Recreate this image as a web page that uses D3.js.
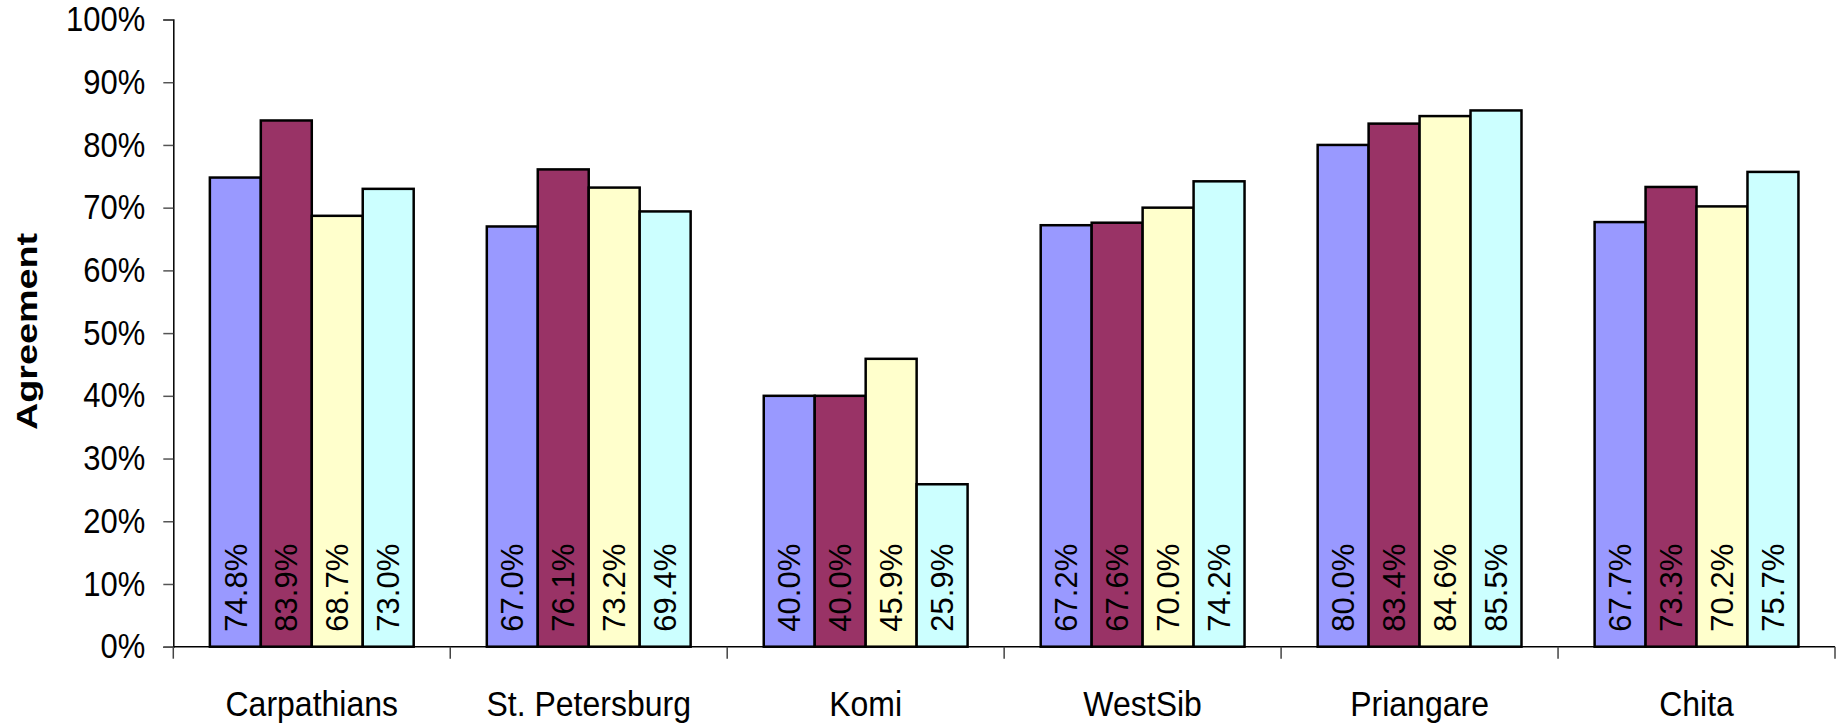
<!DOCTYPE html>
<html>
<head>
<meta charset="utf-8">
<script src="https://cdn.jsdelivr.net/npm/d3@7"></script>
<style>
  html, body { margin: 0; padding: 0; background: #fff; }
  svg { display: block; font-family: Arial, "Liberation Sans", sans-serif; }
</style>
</head>
<body>
<svg id="chart" width="1837" height="726"></svg>
<script>
const categories = ["Carpathians", "St. Petersburg", "Komi", "WestSib", "Priangare", "Chita"];
const seriesNames = ["Series 1", "Series 2", "Series 3", "Series 4"];
const series1 = [74.8, 67.0, 40.0, 67.2, 80.0, 67.7];
const series2 = [83.9, 76.1, 40.0, 67.6, 83.4, 73.3];
const series3 = [68.7, 73.2, 45.9, 70.0, 84.6, 70.2];
const series4 = [73.0, 69.4, 25.9, 74.2, 85.5, 75.7];
const seriesColors = ["#9999FF", "#993366", "#FFFFCC", "#CCFFFF"];
const yTicks = [0, 10, 20, 30, 40, 50, 60, 70, 80, 90, 100];
const yTitle = "Agreement";

const allSeries = [series1, series2, series3, series4];

const svg = d3.select("#chart");
const plotLeft = 173.3, plotRight = 1835, plotTop = 19.5, plotBottom = 646.7;
const stretch = 1.12;

const x0 = d3.scaleBand().domain(categories).range([plotLeft, plotRight])
  .paddingInner(0.264).paddingOuter(0.132);
const x1 = d3.scaleBand().domain(d3.range(seriesNames.length)).range([0, x0.bandwidth()]);
const y = d3.scaleLinear().domain([0, 100]).range([plotBottom, plotTop]);

// Bars
const groups = svg.append("g").selectAll("g")
  .data(categories).join("g")
  .attr("transform", d => `translate(${x0(d)},0)`);

groups.each(function(cat, ci) {
  const g = d3.select(this);
  allSeries.forEach((s, si) => {
    const v = s[ci];
    g.append("rect")
      .attr("x", x1(si))
      .attr("y", y(v))
      .attr("width", x1.bandwidth())
      .attr("height", y(0) - y(v))
      .attr("fill", seriesColors[si])
      .attr("stroke", "#000")
      .attr("stroke-width", 2.5);
    const cx = x1(si) + x1.bandwidth() / 2;
    const ty = y(0) - 15;
    g.append("text")
      .attr("transform", `translate(${cx},${ty}) rotate(-90)`)
      .attr("dy", "0.36em")
      .attr("text-anchor", "start")
      .attr("font-size", 31)
      .attr("fill", "#000")
      .text(v.toFixed(1) + "%");
  });
});

// Y axis
const yAxis = d3.axisLeft(y).tickValues(yTicks).tickFormat(d => d + "%").tickSize(10).tickPadding(18);
const yg = svg.append("g").attr("transform", `translate(${plotLeft},0)`).call(yAxis);
yg.select(".domain").attr("stroke", "#000").attr("stroke-width", 1.5);
yg.selectAll(".tick line").attr("stroke", "#555").attr("stroke-width", 1.5);
yg.selectAll(".tick text").attr("font-size", 31).attr("fill", "#000")
  .attr("font-family", "Arial, 'Liberation Sans', sans-serif")
  .attr("transform", `scale(1,${stretch})`);

// X axis
const xg = svg.append("g").attr("transform", `translate(0,${plotBottom})`);
xg.append("line").attr("x1", plotLeft).attr("x2", plotRight).attr("y1", 0).attr("y2", 0)
  .attr("stroke", "#000").attr("stroke-width", 1.5);
const bounds = categories.map(c => x0(c) - x0.step() * x0.paddingInner() / 2).concat([plotRight]);
xg.selectAll("line.tk").data(bounds).join("line").attr("class", "tk")
  .attr("x1", d => d).attr("x2", d => d).attr("y1", 0).attr("y2", 12)
  .attr("stroke", "#444").attr("stroke-width", 1.5);
xg.selectAll("text.cat").data(categories).join("text").attr("class", "cat")
  .attr("transform", d => `translate(${x0(d) + x0.bandwidth() / 2},69) scale(1,${stretch})`)
  .attr("text-anchor", "middle")
  .attr("font-size", 32)
  .attr("fill", "#000")
  .text(d => d);

// Y title
svg.append("text")
  .attr("transform", `translate(37,${(233 + 430) / 2}) rotate(-90)`)
  .attr("text-anchor", "middle")
  .attr("font-size", 29)
  .attr("font-weight", "bold")
  .attr("textLength", 197)
  .attr("lengthAdjust", "spacingAndGlyphs")
  .attr("fill", "#000")
  .text(yTitle);
</script>
</body>
</html>
